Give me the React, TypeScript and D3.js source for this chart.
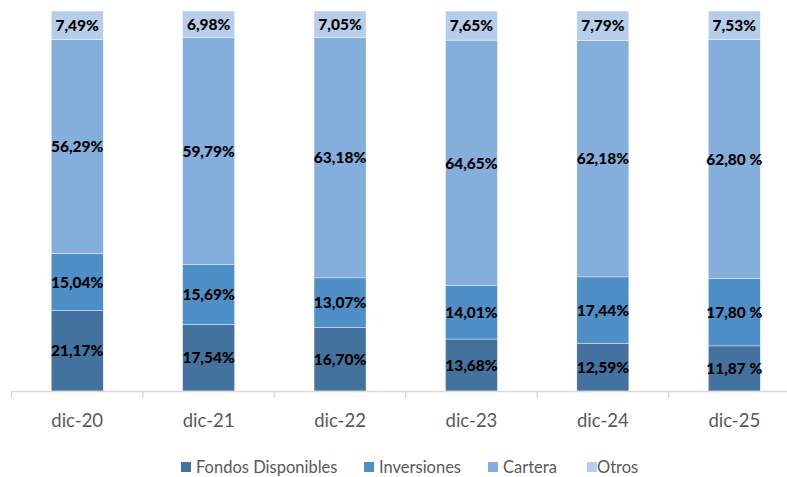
import React from "react";
import * as d3 from "d3";

const categories = ["dic-20", "dic-21", "dic-22", "dic-23", "dic-24", "dic-25"];
const seriesNames = ["Fondos Disponibles", "Inversiones", "Cartera", "Otros"];
const fondos = [21.17, 17.54, 16.7, 13.68, 12.59, 11.87];
const inversiones = [15.04, 15.69, 13.07, 14.01, 17.44, 17.8];
const cartera = [56.29, 59.79, 63.18, 64.65, 62.18, 62.8];
const otros = [7.49, 6.98, 7.05, 7.65, 7.79, 7.53];
const labelsFondos = ["21,17%", "17,54%", "16,70%", "13,68%", "12,59%", "11,87 %"];
const labelsInversiones = ["15,04%", "15,69%", "13,07%", "14,01%", "17,44%", "17,80 %"];
const labelsCartera = ["56,29%", "59,79%", "63,18%", "64,65%", "62,18%", "62,80 %"];
const labelsOtros = ["7,49%", "6,98%", "7,05%", "7,65%", "7,79%", "7,53%"];
const colors = ["#44729F", "#4F8FC7", "#84AEDB", "#B7CEEA"];

export default function App() {
  const W = 787;
  const H = 477;
  const x = d3.scaleBand<string>().domain(categories).range([11.5, 800]).paddingInner(0).paddingOuter(0);
  const y = d3.scaleLinear().domain([0, 100]).range([391, 11]);
  const barW = 52;
  const values = [fondos, inversiones, cartera, otros];
  const labels = [labelsFondos, labelsInversiones, labelsCartera, labelsOtros];
  const font = "Lato, 'Open Sans', sans-serif";

  const legendItems = [
    { sx: 181, tx: 196 },
    { sx: 364, tx: 379 },
    { sx: 488, tx: 503 },
    { sx: 587, tx: 597 },
  ];

  return (
    <svg width={W} height={H} style={{ position: "absolute", left: 0, top: 0 }}>
      <rect width={W} height={H} fill="#fff" />
      {categories.map((c, i) => {
        const cx = x(c)! + x.bandwidth() / 2;
        let acc = 0;
        return (
          <g key={c}>
            {values.map((vals, s) => {
              const v = vals[i];
              const y0 = y(acc);
              const y1 = y(acc + v);
              acc += v;
              return (
                <g key={s}>
                  <rect x={cx - barW / 2} y={y1} width={barW} height={y0 - y1} fill={colors[s]} stroke="#ffffff" strokeWidth={0.4} />
                  <text
                    x={cx}
                    y={(y0 + y1) / 2}
                    dy="0.36em"
                    textAnchor="middle"
                    fontFamily={font}
                    fontWeight="900"
                    fontSize={15.5}
                    fill="#000"
                  >
                    {labels[s][i]}
                  </text>
                </g>
              );
            })}
          </g>
        );
      })}
      <line x1={11.5} x2={800} y1={391.5} y2={391.5} stroke="#D9D9D9" strokeWidth={1.5} />
      {d3.range(categories.length + 1).map((k) => {
        const tx = 11.5 + k * x.bandwidth();
        return <line key={k} x1={tx} x2={tx} y1={391.5} y2={398} stroke="#D9D9D9" strokeWidth={1.5} />;
      })}
      {categories.map((c) => (
        <text
          key={c}
          x={x(c)! + x.bandwidth() / 2}
          y={427}
          textAnchor="middle"
          fontFamily={font}
          fontSize={18.5}
          fill="#595959"
        >
          {c}
        </text>
      ))}
      {seriesNames.map((n, s) => (
        <g key={n}>
          <rect x={legendItems[s].sx} y={462} width={10} height={10} fill={colors[s]} />
          <text x={legendItems[s].tx} y={472.5} fontFamily={font} fontSize={16.5} fill="#595959">
            {n}
          </text>
        </g>
      ))}
    </svg>
  );
}
